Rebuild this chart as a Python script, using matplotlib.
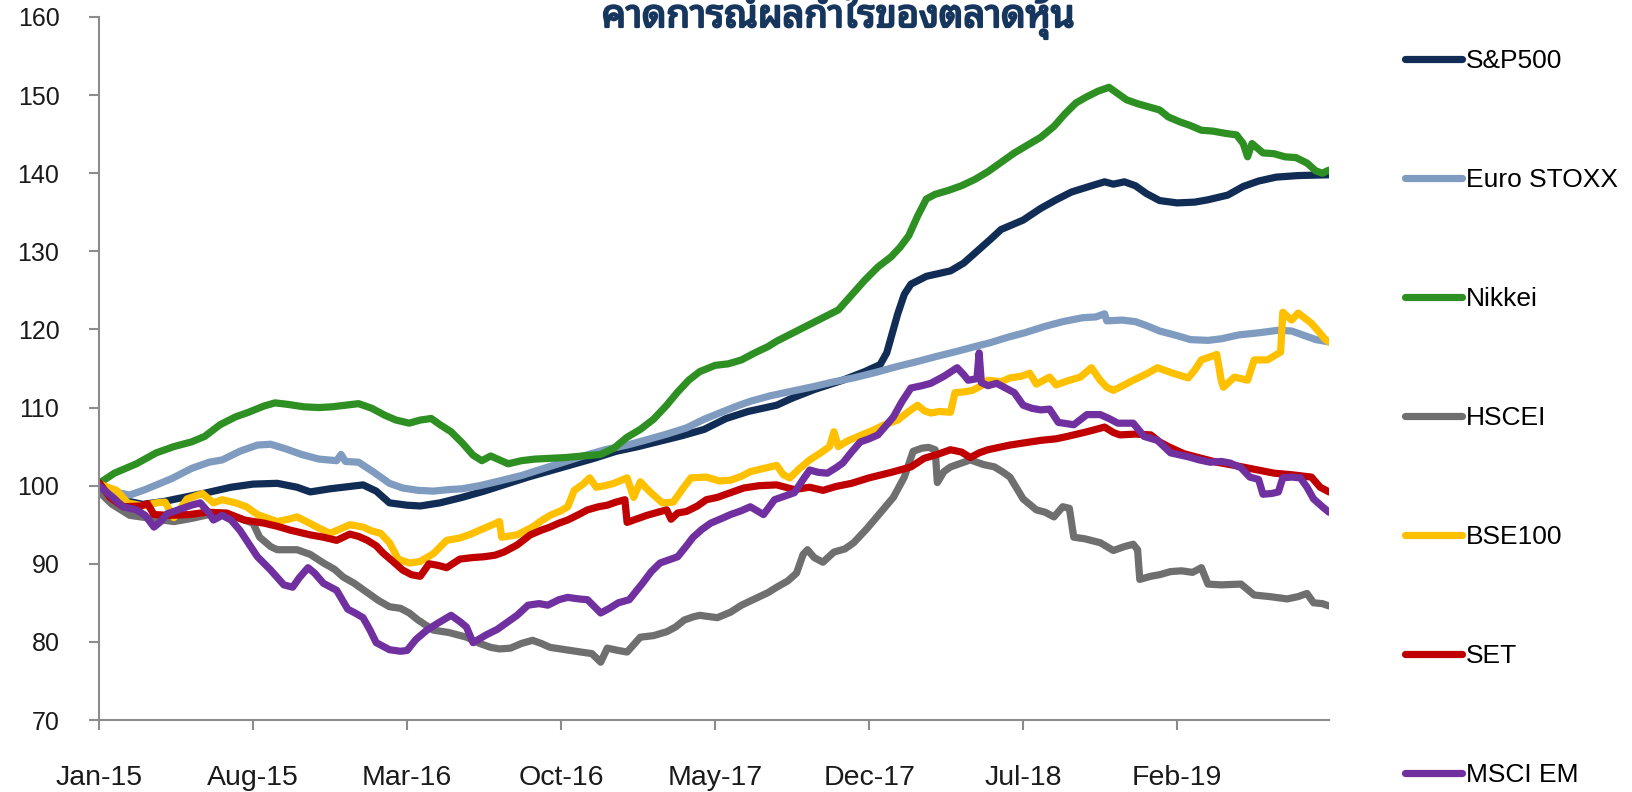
"""Recreate the earnings-expectation line chart for several equity indices."""

from __future__ import annotations

import matplotlib

matplotlib.use("Agg")
import matplotlib.pyplot as plt
from matplotlib import patheffects


TITLE = "คาดการณ์ผลกำไรของตลาดหุ้น"
TICK_MONTHS = [0, 7, 14, 21, 28, 35, 42, 49]
TICK_LABELS = ["Jan-15", "Aug-15", "Mar-16", "Oct-16", "May-17", "Dec-17", "Jul-18", "Feb-19"]
Y_TICKS = [70, 80, 90, 100, 110, 120, 130, 140, 150, 160]

# months since Jan-15 and index level (Jan-15 = 100)
SP500_M = [0, 1, 2, 3, 3.5, 4.9, 6, 7, 8.1, 9, 9.6, 10.5, 12, 12.6, 13.2, 14, 14.6, 15.5, 16.5, 17.5,
           18.5, 19.5, 20.5, 21.5, 22.5, 23.5, 24.5, 25.5, 26.5, 27.5, 28.5, 29.5, 30.8, 31.5, 32.5,
           33.8, 34.8, 35.5, 35.8, 36.1, 36.3, 36.6, 36.9, 37.6, 38.7, 39.3, 39.9, 40.5, 41, 42, 42.8,
           43.5, 44.2, 45, 45.7, 46.1, 46.6, 47.1, 47.6, 48.2, 49, 49.8, 50.4, 51.3, 52, 52.7, 53.5,
           54.5, 55.9]
SP500_V = [100, 98.2, 97.6, 98.0, 98.3, 99.1, 99.8, 100.2, 100.3, 99.8, 99.2, 99.6, 100.1, 99.3, 97.8,
           97.5, 97.4, 97.8, 98.5, 99.3, 100.2, 101.1, 101.9, 102.7, 103.5, 104.4, 105, 105.7, 106.4,
           107.2, 108.6, 109.5, 110.3, 111.2, 112.3, 113.5, 114.6, 115.5, 117, 120, 122, 124.5, 125.8,
           126.8, 127.5, 128.5, 130, 131.5, 132.8, 134, 135.5, 136.6, 137.6, 138.3, 138.9, 138.6,
           138.9, 138.4, 137.4, 136.5, 136.2, 136.3, 136.6, 137.2, 138.3, 139, 139.5, 139.7, 139.8]

EURO_M = [0, 0.7, 1.4, 2.1, 3.3, 4.2, 5, 5.6, 6.4, 7.2, 7.8, 8.5, 9.2, 10, 10.8, 11, 11.2, 11.8, 12.5,
          13.2, 13.8, 14.5, 15.2, 15.9, 16.5, 17.3, 18.2, 19.2, 20.2, 21.1, 22, 23, 24, 24.8, 25.8,
          26.7, 27.5, 28.2, 29, 29.6, 30.5, 31.5, 32.5, 33.4, 34.3, 35.3, 36.2, 37.2, 38, 39, 39.8,
          40.5, 41.3, 42.1, 43, 43.8, 44.7, 45.3, 45.7, 45.8, 46.5, 47.1, 47.6, 48.2, 49, 49.6, 50.4,
          51, 51.8, 52.8, 53.6, 54.2, 54.8, 55.3, 55.9]
EURO_V = [100, 99.2, 98.8, 99.5, 100.9, 102.2, 103, 103.3, 104.4, 105.2, 105.3, 104.7, 104, 103.4,
          103.2, 104, 103.1, 103, 101.7, 100.3, 99.7, 99.4, 99.3, 99.5, 99.6, 100, 100.6, 101.3, 102.2,
          103, 103.8, 104.6, 105.2, 105.8, 106.6, 107.4, 108.5, 109.3, 110.2, 110.8, 111.5, 112.1,
          112.7, 113.3, 113.8, 114.5, 115.2, 115.9, 116.5, 117.2, 117.8, 118.3, 119, 119.6, 120.4, 121,
          121.5, 121.6, 122, 121.1, 121.2, 121, 120.5, 119.8, 119.2, 118.7, 118.6, 118.8, 119.3, 119.6,
          119.9, 119.8, 119.2, 118.7, 118.4]

NIKKEI_M = [0, 0.7, 1.7, 2.6, 3.4, 4.2, 4.8, 5.5, 6.2, 6.8, 7.5, 8, 8.6, 9.3, 10, 10.6, 11.2, 11.8, 12.4,
            13, 13.5, 14.1, 14.6, 15.1, 15.5, 16, 16.5, 17, 17.4, 17.8, 18.2, 18.6, 19.2, 19.8, 20.5,
            21.2, 22, 22.8, 23.4, 24, 24.6, 25.2, 25.8, 26.3, 26.8, 27.3, 28, 28.6, 29.2, 29.8, 30.4,
            30.8, 31.5, 32.2, 32.9, 33.6, 34.2, 34.8, 35.4, 36, 36.4, 36.8, 37.2, 37.6, 38, 38.6, 39.2,
            39.8, 40.4, 41, 41.6, 42.2, 42.8, 43.4, 43.9, 44.4, 44.9, 45.4, 45.9, 46.3, 46.7, 47.2,
            47.7, 48.2, 48.6, 49.1, 49.6, 50.1, 50.6, 51.2, 51.7, 52, 52.2, 52.4, 52.9, 53.4, 53.9,
            54.4, 54.9, 55.3, 55.6, 55.9]
NIKKEI_V = [100.3, 101.6, 102.8, 104.2, 105, 105.6, 106.3, 107.8, 108.8, 109.4, 110.2, 110.6, 110.4,
            110.1, 110, 110.1, 110.3, 110.5, 109.9, 109, 108.4, 108, 108.4, 108.6, 107.8, 106.9, 105.5,
            103.9, 103.2, 103.8, 103.3, 102.8, 103.2, 103.4, 103.5, 103.6, 103.8, 104, 104.8, 106.2,
            107.2, 108.5, 110.3, 112, 113.5, 114.6, 115.4, 115.6, 116.1, 117, 117.8, 118.5, 119.5,
            120.5, 121.5, 122.5, 124.4, 126.3, 128, 129.3, 130.5, 132, 134.5, 136.7, 137.3, 137.8,
            138.4, 139.2, 140.2, 141.4, 142.6, 143.6, 144.6, 146, 147.6, 149, 149.8, 150.5, 151, 150.2,
            149.4, 148.9, 148.5, 148.1, 147.2, 146.6, 146.1, 145.5, 145.4, 145.1, 144.9, 143.8, 142.1,
            143.8, 142.6, 142.5, 142.1, 142, 141.3, 140.3, 140, 140.4]

HSCEI_M = [0, 0.6, 1.4, 2.4, 3.4, 4.2, 5, 6, 6.7, 7, 7.3, 7.8, 8.1, 9, 9.6, 10.2, 10.7, 11.1, 11.6, 12.2,
           12.7, 13.2, 13.7, 14.1, 14.5, 15.2, 15.9, 16.7, 17.3, 17.8, 18.2, 18.7, 19.2, 19.7, 20.1,
           20.5, 21.2, 21.9, 22.4, 22.8, 23.1, 23.6, 24, 24.6, 25.2, 25.8, 26.2, 26.6, 27, 27.3, 28.1,
           28.7, 29.2, 29.8, 30.4, 30.8, 31.3, 31.7, 32, 32.2, 32.5, 32.9, 33.4, 33.9, 34.3, 34.9,
           35.5, 36.1, 36.6, 37, 37.4, 37.7, 38, 38.1, 38.4, 38.7, 39.2, 39.6, 40.2, 40.7, 41.1, 41.4,
           41.7, 42, 42.6, 43, 43.4, 43.8, 44.1, 44.3, 44.8, 45.5, 46.1, 46.6, 47, 47.2, 47.3, 47.8,
           48.2, 48.7, 49.2, 49.7, 50.1, 50.4, 51, 51.9, 52.5, 53.2, 54, 54.5, 54.9, 55.2, 55.6, 55.9]
HSCEI_V = [99.2, 97.6, 96.2, 95.8, 95.4, 95.8, 96.3, 96.2, 95.5, 95.2, 93.4, 92.2, 91.8, 91.8, 91.2,
           90.1, 89.3, 88.3, 87.5, 86.3, 85.3, 84.5, 84.3, 83.7, 82.8, 81.5, 81.2, 80.6, 79.8, 79.3,
           79.1, 79.2, 79.8, 80.2, 79.8, 79.3, 79, 78.7, 78.5, 77.4, 79.2, 78.9, 78.7, 80.6, 80.8, 81.3,
           81.9, 82.8, 83.2, 83.4, 83.1, 83.8, 84.7, 85.5, 86.3, 87, 87.8, 88.8, 91.2, 91.8, 90.8, 90.2,
           91.5, 91.9, 92.7, 94.5, 96.5, 98.5, 101.1, 104.4, 104.8, 104.9, 104.6, 100.4, 101.8, 102.4,
           102.9, 103.3, 102.7, 102.4, 101.7, 101.1, 99.7, 98.3, 96.9, 96.6, 96, 97.3, 97.1, 93.4, 93.2,
           92.7, 91.7, 92.2, 92.5, 91.8, 88, 88.4, 88.6, 89, 89.1, 88.9, 89.5, 87.4, 87.3, 87.4, 86,
           85.8, 85.5, 85.8, 86.2, 85, 84.9, 84.6]

BSE_M = [0, 0.8, 1.3, 2, 2.6, 3, 3.4, 4, 4.7, 5.2, 5.6, 6.2, 6.7, 7.2, 7.7, 8.1, 8.6, 9, 9.5, 9.9, 10.5,
         11, 11.4, 12, 12.4, 12.8, 13.2, 13.6, 14.1, 14.6, 15.2, 15.8, 16.4, 16.9, 17.3, 17.8, 18.2,
         18.3, 19, 19.7, 20.1, 20.5, 21, 21.3, 21.6, 22, 22.3, 22.6, 23, 23.4, 24, 24.3, 24.6, 24.9,
         25.2, 25.6, 26.1, 26.5, 26.9, 27.6, 28.2, 28.7, 29.2, 29.6, 30.2, 30.8, 31.1, 31.4, 31.8,
         32.3, 32.8, 33.2, 33.4, 33.6, 34, 34.5, 35.1, 35.7, 36.3, 36.8, 37.2, 37.5, 37.8, 38.2, 38.7,
         38.9, 39.3, 39.7, 40.1, 40.4, 41, 41.4, 41.9, 42.3, 42.6, 43.2, 43.5, 44, 44.6, 45.1, 45.5,
         45.8, 46.1, 46.6, 47, 47.6, 48.1, 48.8, 49.5, 49.8, 50.1, 50.5, 50.8, 51, 51.1, 51.6, 52.2,
         52.5, 53.1, 53.7, 53.8, 54.2, 54.5, 55.1, 55.5, 55.7, 55.9]
BSE_V = [100.2, 99.4, 97.8, 97.4, 97.8, 97.9, 95.9, 98.3, 99, 97.8, 98.2, 97.8, 97.3, 96.3, 95.8, 95.4,
         95.7, 96, 95.3, 94.7, 93.9, 94.5, 95, 94.7, 94.2, 93.9, 92.7, 90.6, 90.1, 90.3, 91.3, 93,
         93.3, 93.8, 94.3, 94.9, 95.4, 93.4, 93.7, 94.7, 95.5, 96.2, 96.8, 97.3, 99.4, 100.2, 101,
         99.8, 100, 100.3, 101, 98.5, 100.5, 99.6, 98.8, 97.8, 97.9, 99.5, 101, 101.1, 100.6, 100.7,
         101.2, 101.8, 102.2, 102.6, 101.4, 101, 102.1, 103.3, 104.2, 105, 106.9, 105, 105.7, 106.3,
         107, 107.8, 108.4, 109.5, 110.3, 109.6, 109.3, 109.5, 109.4, 111.9, 112, 112.2, 112.8, 113.5,
         113.3, 113.8, 114, 114.4, 113, 113.9, 112.9, 113.4, 113.9, 115.1, 113.5, 112.6, 112.2, 112.9,
         113.5, 114.3, 115.1, 114.4, 113.8, 114.8, 116.1, 116.5, 116.8, 113.5, 112.6, 113.9, 113.5,
         116.1, 116.1, 117.1, 122.2, 121.2, 122.1, 120.8, 119.5, 118.8, 118.4]

SET_M = [0, 0.5, 1.1, 1.9, 2.2, 2.5, 3.2, 4.1, 4.9, 5.8, 6.6, 7.5, 8.1, 8.7, 9.6, 10.2, 10.8, 11.4,
         11.8, 12.2, 12.6, 12.9, 13.4, 13.8, 14.2, 14.6, 15, 15.4, 15.8, 16.4, 17, 17.5, 18, 18.4, 19,
         19.6, 20.1, 20.5, 20.9, 21.3, 21.8, 22.2, 22.7, 23.1, 23.5, 23.9, 24, 24.5, 24.9, 25.4, 25.8,
         26, 26.3, 26.7, 27.2, 27.6, 28.1, 28.7, 29.3, 30, 30.8, 31.6, 32.3, 32.9, 33.5, 34.2, 35, 36,
         36.9, 37.5, 38.1, 38.7, 39.2, 39.6, 40, 40.4, 41.4, 42.1, 42.8, 43.5, 44, 44.9, 45.7, 46.1,
         46.4, 47.1, 47.8, 48.2, 48.6, 49.3, 50.1, 50.8, 51.6, 52.5, 53.4, 54.2, 55.1, 55.5, 55.9]
SET_V = [100.4, 98.5, 97.3, 97.4, 97.7, 96.3, 96.2, 96.3, 96.6, 96.5, 95.6, 95.2, 94.8, 94.3, 93.7,
         93.4, 93, 93.8, 93.5, 93, 92.3, 91.4, 90.2, 89.2, 88.6, 88.4, 90, 89.8, 89.5, 90.6, 90.8,
         90.9, 91.1, 91.5, 92.4, 93.7, 94.3, 94.7, 95.2, 95.6, 96.3, 96.9, 97.3, 97.5, 97.9, 98.2,
         95.3, 95.8, 96.2, 96.6, 96.9, 95.7, 96.5, 96.7, 97.4, 98.2, 98.5, 99.1, 99.7, 100, 100.1,
         99.5, 99.8, 99.4, 99.9, 100.3, 101, 101.7, 102.4, 103.5, 104, 104.6, 104.3, 103.6, 104.2,
         104.6, 105.2, 105.5, 105.8, 106, 106.3, 106.9, 107.5, 106.8, 106.5, 106.6, 106.5, 105.6, 105,
         104.1, 103.5, 103, 102.6, 102.1, 101.6, 101.4, 101.1, 99.8, 99.2]

MSCI_M = [0, 0.5, 1.1, 1.7, 2.1, 2.5, 2.8, 3.1, 3.8, 4.2, 4.6, 5, 5.2, 5.6, 6, 6.4, 6.8, 7.2, 7.8, 8.4,
          8.8, 9.1, 9.5, 9.8, 10.2, 10.8, 11.3, 11.7, 12, 12.3, 12.6, 13.2, 13.7, 14, 14.4, 14.9, 15.4,
          16, 16.4, 16.7, 17, 17.6, 18.1, 18.5, 19, 19.5, 20, 20.4, 20.9, 21.3, 21.8, 22.2, 22.8, 23.2,
          23.6, 24.1, 24.7, 25.1, 25.5, 25.9, 26.3, 26.7, 27, 27.4, 27.8, 28.3, 28.7, 29.2, 29.6,
          30.2, 30.7, 31.2, 31.6, 32, 32.3, 32.7, 33.1, 33.5, 33.8, 34.2, 34.6, 35, 35.4, 35.8, 36.1,
          36.5, 36.9, 37.4, 37.8, 38.4, 39, 39.3, 39.5, 39.9, 40, 40.1, 40.4, 40.8, 41.2, 41.6, 42,
          42.4, 42.8, 43.2, 43.6, 44.3, 44.9, 45.5, 45.9, 46.3, 47, 47.5, 48.1, 48.7, 49.5, 50, 50.5,
          51, 51.4, 51.9, 52.3, 52.7, 52.9, 53.3, 53.6, 53.8, 54.2, 54.6, 54.9, 55.2, 55.6, 55.9]
MSCI_V = [100, 98.8, 97.3, 96.9, 96.2, 94.7, 95.4, 96.4, 97.1, 97.5, 97.8, 96.5, 95.6, 96.2, 95.6, 94.3,
          92.6, 90.9, 89.2, 87.3, 87, 88.2, 89.5, 88.8, 87.5, 86.6, 84.2, 83.6, 83.1, 81.6, 79.9, 79,
          78.8, 78.9, 80.3, 81.5, 82.4, 83.4, 82.6, 81.9, 79.9, 80.9, 81.6, 82.4, 83.4, 84.7, 84.9,
          84.7, 85.4, 85.7, 85.5, 85.4, 83.7, 84.3, 85, 85.4, 87.5, 89, 90.1, 90.5, 90.9, 92.3, 93.4,
          94.4, 95.2, 95.8, 96.3, 96.8, 97.3, 96.3, 98.2, 98.7, 99.1, 100.8, 102, 101.7, 101.6, 102.3,
          102.9, 104.3, 105.6, 106, 106.5, 107.8, 108.8, 110.8, 112.5, 112.8, 113.1, 114, 115.1, 114.2,
          113.5, 113.7, 117, 113.2, 112.8, 113.1, 112.5, 111.9, 110.3, 109.9, 109.7, 109.8, 108.1,
          107.8, 109.1, 109.1, 108.6, 108, 108, 106.3, 105.8, 104.2, 103.7, 103.3, 103, 103.1, 102.9,
          102.3, 101.1, 100.8, 98.9, 99, 99.2, 101, 101.1, 101, 99.8, 98.3, 97.3, 96.6]

SERIES = [
    ("S&P500", SP500_M, SP500_V, "#112D55"),
    ("Euro STOXX", EURO_M, EURO_V, "#7F9CC0"),
    ("Nikkei", NIKKEI_M, NIKKEI_V, "#2E9023"),
    ("HSCEI", HSCEI_M, HSCEI_V, "#6F6F6F"),
    ("BSE100", BSE_M, BSE_V, "#FFC000"),
    ("SET", SET_M, SET_V, "#C00000"),
    ("MSCI EM", MSCI_M, MSCI_V, "#7030A0"),
]

AXIS_GREY = "#8C8C8C"
TITLE_COLOR = "#17365D"


def main() -> None:
    plt.rcParams["font.family"] = ["Liberation Sans", "DejaVu Sans"]
    fig = plt.figure(figsize=(16.32, 7.92), dpi=100)
    ax = fig.add_axes([99 / 1632, 72 / 792, 1230 / 1632, 703 / 792])

    for label, months, values, color in SERIES:
        ax.plot(months, values, color=color, lw=5.2, label=label,
                solid_capstyle="round", solid_joinstyle="round")

    ax.set_xlim(0, 55.9)
    ax.set_ylim(70, 160)
    ax.set_yticks(Y_TICKS)
    ax.set_xticks(TICK_MONTHS)
    ax.set_xticklabels(TICK_LABELS)
    for side in ("top", "right"):
        ax.spines[side].set_visible(False)
    for side in ("left", "bottom"):
        ax.spines[side].set_color(AXIS_GREY)
        ax.spines[side].set_linewidth(1.5)
    ax.tick_params(axis="both", direction="out", length=7.5, width=1.5, color=AXIS_GREY,
                   labelcolor="#1A1A1A")
    ax.tick_params(axis="y", labelsize=18, pad=21)
    ax.tick_params(axis="x", labelsize=20.5, pad=25)

    ax.legend(loc="upper left", bbox_to_anchor=(1405 / 1632, 1 - 49 / 792),
              bbox_transform=fig.transFigure, frameon=False, fontsize=19,
              handlelength=2.15, handletextpad=0.15, labelspacing=3.6,
              borderpad=0, borderaxespad=0)

    # the title sits partly above the top edge, as in the source image
    fig.text(838 / 1632, 1 - 27 / 792, TITLE, ha="center", va="baseline",
             fontsize=27.5, color=TITLE_COLOR,
             family=["Noto Sans Thai Looped", "Loma", "DejaVu Sans"],
             path_effects=[patheffects.withStroke(linewidth=1.6, foreground=TITLE_COLOR)])

    fig.savefig("out.png", dpi=100)
    plt.close(fig)


if __name__ == "__main__":
    main()
